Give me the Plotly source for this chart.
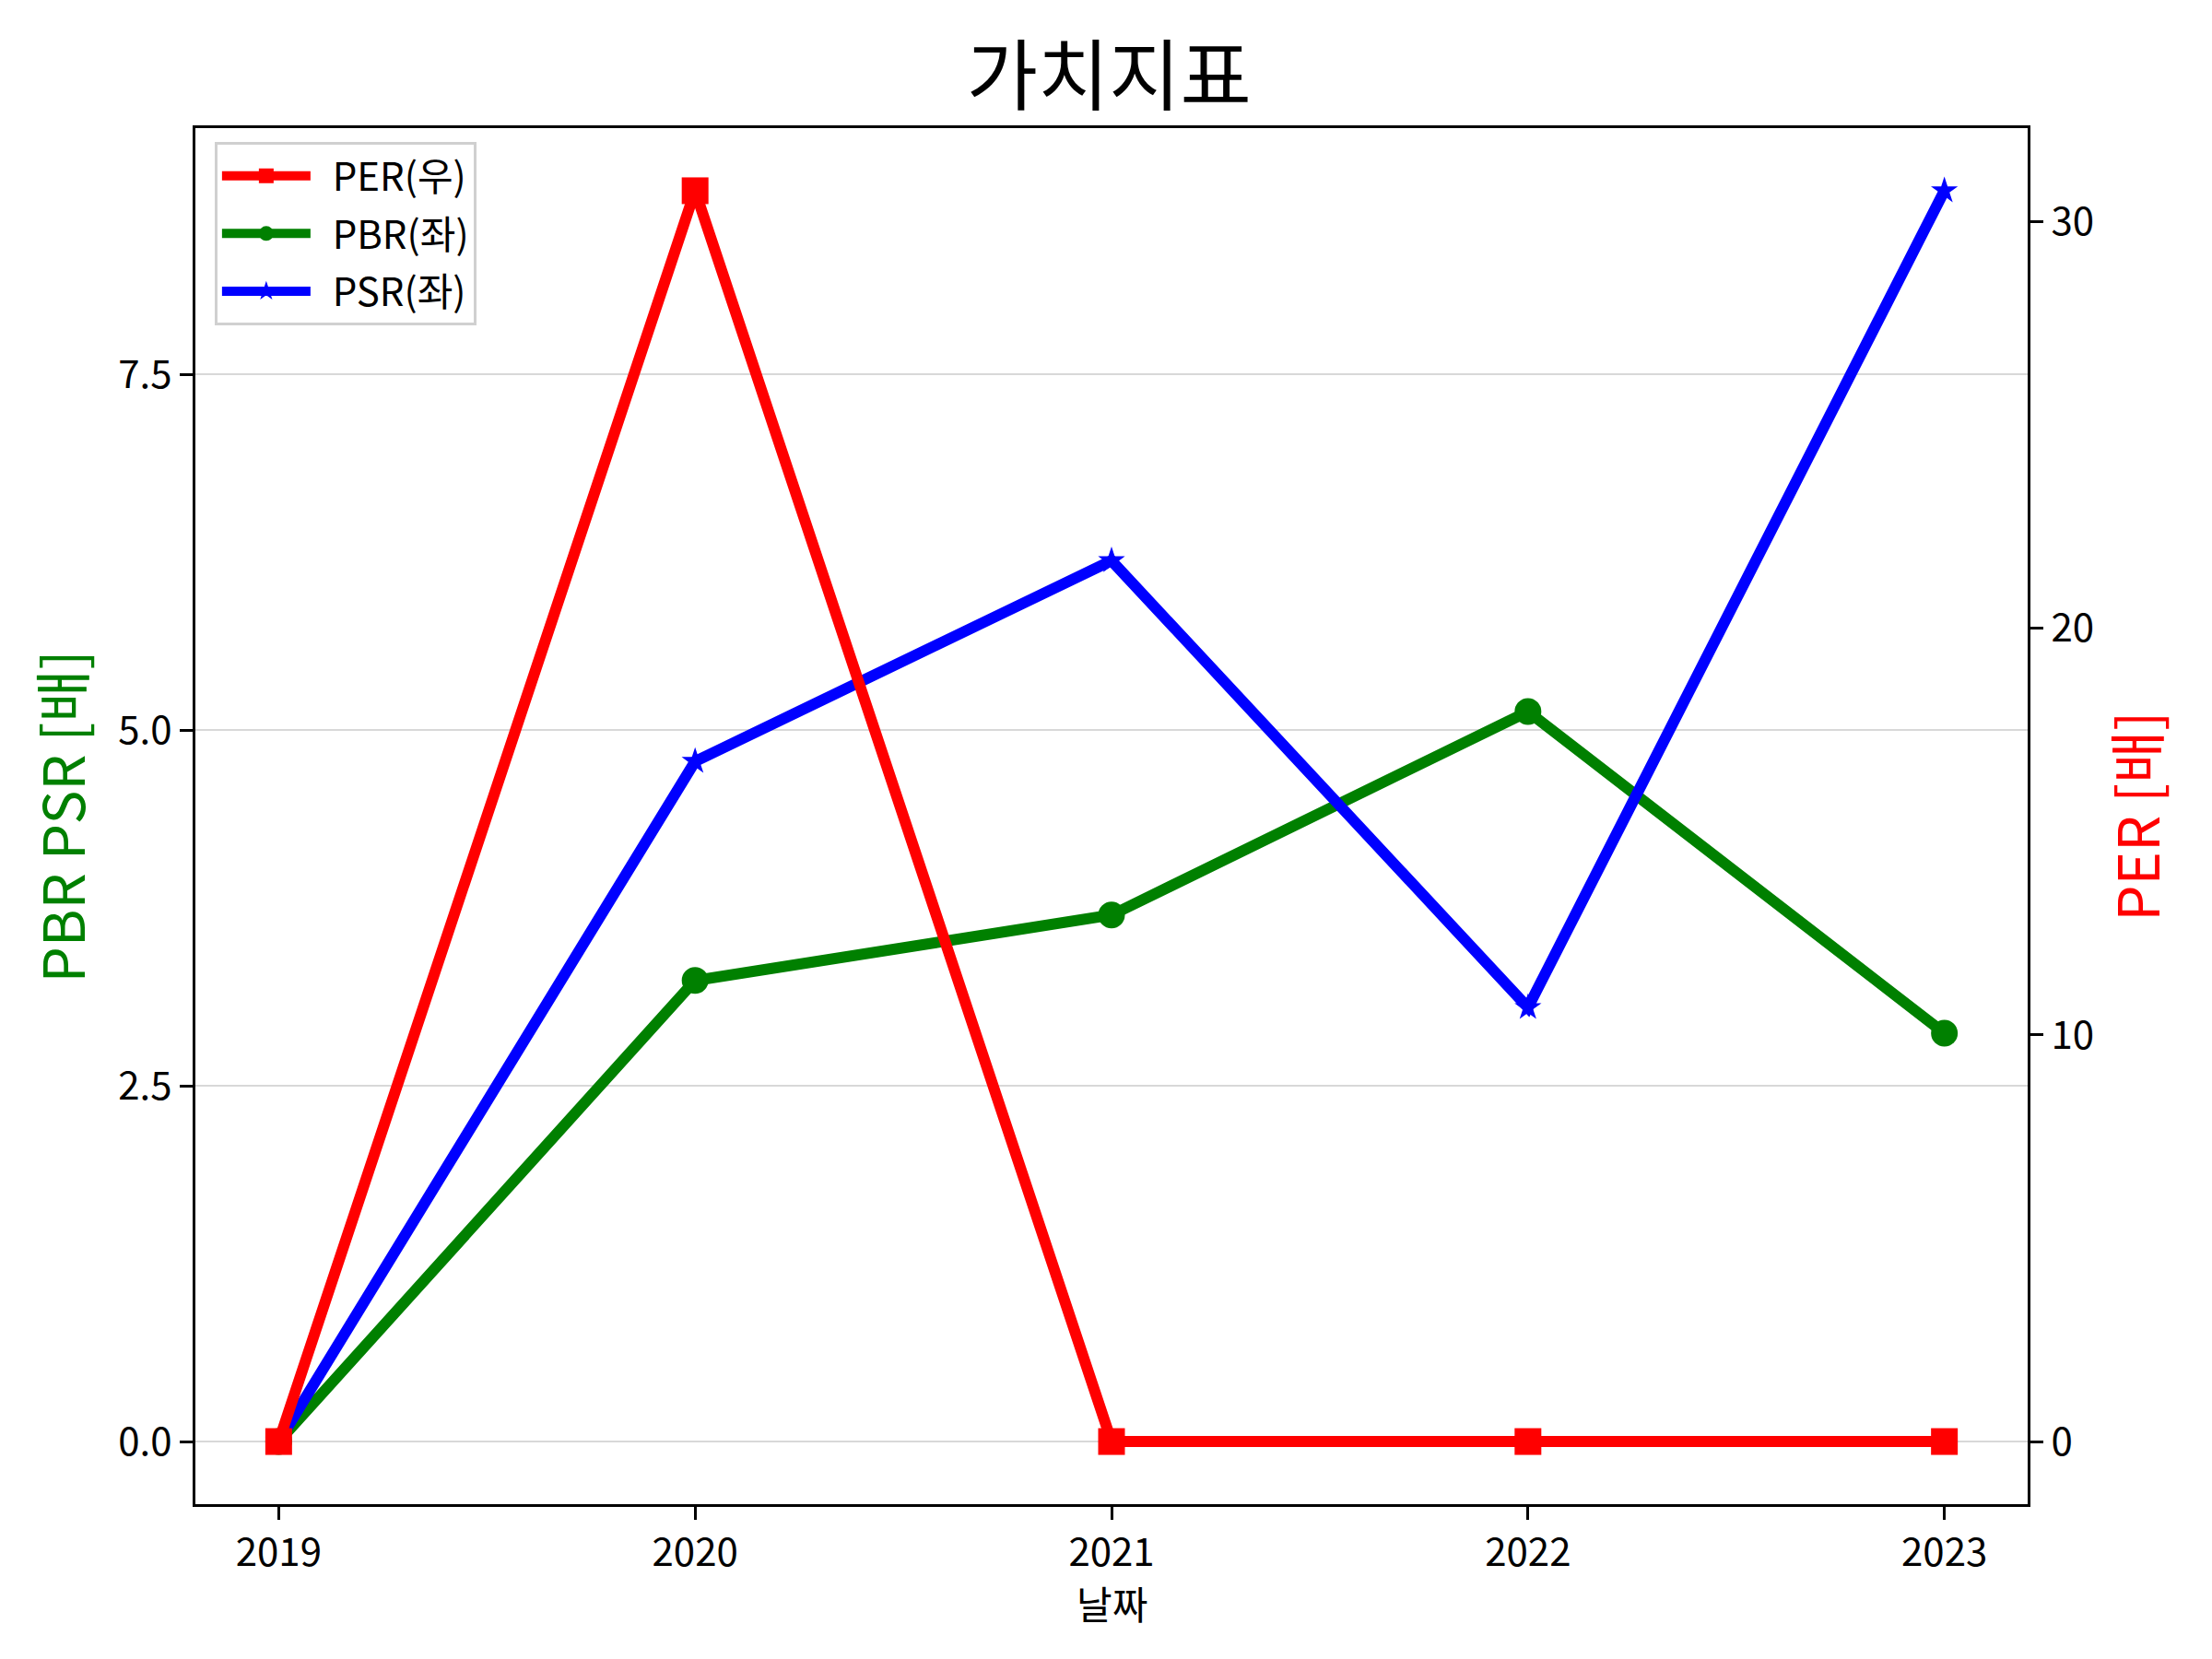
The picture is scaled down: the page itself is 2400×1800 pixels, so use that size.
import plotly.graph_objects as go

# 연도별 가치지표
years = [2019, 2020, 2021, 2022, 2023]
per = [0, 30.76, 0, 0, 0]
pbr = [0, 3.24, 3.70, 5.13, 2.87]
psr = [0, 4.78, 6.19, 3.05, 8.79]

left_ticks = [0.0, 2.5, 5.0, 7.5]
right_ticks = [0, 10, 20, 30]

FONT = "Noto Sans CJK KR"
LW = 12
MS = 29
NB = "\u00a0\u00a0"


def main():
    fig = go.Figure()
    fig.add_trace(go.Scatter(x=years, y=per, name=NB + "PER(우)", yaxis="y2",
                             mode="lines+markers", legendgroup="per",
                             line=dict(color="red", width=LW),
                             marker=dict(symbol="square", size=MS, color="red")))
    fig.add_trace(go.Scatter(x=years, y=pbr, name=NB + "PBR(좌)",
                             mode="lines+markers", legendgroup="pbr",
                             line=dict(color="green", width=LW),
                             marker=dict(symbol="circle", size=MS, color="green")))
    fig.add_trace(go.Scatter(x=years, y=psr, name=NB + "PSR(좌)",
                             mode="lines+markers", legendgroup="psr",
                             line=dict(color="blue", width=LW),
                             marker=dict(symbol="star", size=22, color="blue")))

    axis_common = dict(showline=True, linecolor="black", linewidth=3,
                       ticks="outside", ticklen=14, tickwidth=3, tickcolor="black",
                       tickfont=dict(family=FONT, size=42, color="black"),
                       zeroline=False)

    fig.update_layout(
        width=2400, height=1800,
        margin=dict(l=204, r=208, t=131, b=176),
        paper_bgcolor="white", plot_bgcolor="white",
        font=dict(family=FONT, color="black"),
        title=dict(text="가치지표", x=0.498, xanchor="center",
                   y=1 - 76 / 1800, yanchor="middle",
                   font=dict(family=FONT, size=84, color="black")),
        xaxis=dict(range=[2018.8, 2023.2], tickvals=years,
                   ticktext=[str(y) for y in years], showgrid=False,
                   mirror=True, **axis_common),
        yaxis=dict(range=[-0.44, 9.23], tickvals=left_ticks, tickformat=".1f",
                   showgrid=True, gridcolor="#d8d8d8", gridwidth=1.5,
                   **axis_common),
        yaxis2=dict(range=[-1.54, 32.3], tickvals=right_ticks, overlaying="y",
                    side="right", showgrid=False, **axis_common),
        legend=dict(x=0.0105, y=0.990, xanchor="left", yanchor="top",
                    bgcolor="white", bordercolor="#d0d0d0", borderwidth=3,
                    font=dict(family=FONT, size=42, color="black"),
                    itemwidth=96, tracegroupgap=5),
        showlegend=True,
        annotations=[
            dict(text="날짜", xref="paper", yref="paper", x=0.5, y=-0.071,
                 xanchor="center", yanchor="middle", showarrow=False,
                 font=dict(family=FONT, size=42, color="black")),
            dict(text="PBR PSR [배]", xref="paper", yref="paper",
                 x=-0.074, y=0.5, xanchor="center", yanchor="middle",
                 textangle=-90, showarrow=False,
                 font=dict(family=FONT, size=62, color="green")),
            dict(text="PER [배]", xref="paper", yref="paper",
                 x=1.058, y=0.5, xanchor="center", yanchor="middle",
                 textangle=-90, showarrow=False,
                 font=dict(family=FONT, size=62, color="red")),
        ],
    )
    fig.write_html("out.html")


if __name__ == "__main__":
    main()
